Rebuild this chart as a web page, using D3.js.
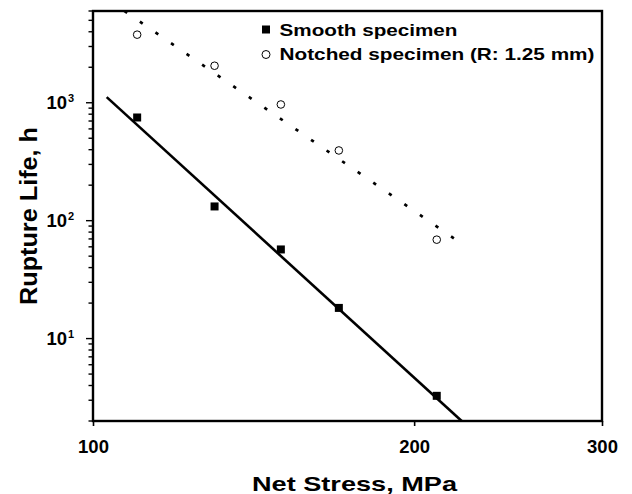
<!DOCTYPE html>
<html><head><meta charset="utf-8">
<script src="https://cdn.jsdelivr.net/npm/d3@7"></script>
<style>body{margin:0;background:#fff} text{font-family:"Liberation Sans",Arial,sans-serif;font-weight:bold;fill:#000}</style>
</head><body><svg id="c" width="632" height="494"></svg>
<script>
// Data
const stress = [110, 130, 150, 170, 210];
const smoothLife = [750, 132, 57, 18.2, 3.27];
const notchedLife = [3780, 2060, 967, 394, 69];
const smoothFitX = [103, 221.6];
const smoothFitY = [1116, 2];
const notchedFitX = [107, 223.2];
const notchedFitY = [6000, 61];
const xTickValues = [100, 200, 300];
const yMajorValues = [10, 100, 1000];
const yExponents = ["1", "2", "3"];
const legendLabels = ["Smooth specimen", "Notched specimen (R: 1.25 mm)"];

const L = 93, R = 602, T = 11, B = 421;
const svg = d3.select("#c");
const x = d3.scaleLog().domain([100, 300]).range([L, R]);
const y = d3.scaleLog().domain([2, 6000]).range([B, T]);

svg.append("clipPath").attr("id", "clip").append("rect")
  .attr("x", L).attr("y", T).attr("width", R - L).attr("height", B - T);

// x axis ticks + labels
const xAxis = d3.axisBottom(x).tickValues(xTickValues).tickSize(5).tickFormat(d3.format("d"));
const gx = svg.append("g").attr("transform", `translate(0,${B})`).call(xAxis);
gx.select(".domain").remove();
gx.selectAll(".tick line").attr("stroke", "#000").attr("stroke-width", 1.6);
gx.selectAll(".tick text").attr("font-size", 18.5).attr("dy", null).attr("y", 31.5);

// y axis: minor ticks
const yAll = y.ticks().filter(v => v >= 2 && v <= 6000);
const gy = svg.append("g");
gy.selectAll("line.minor").data(yAll).join("line")
  .attr("x1", d => yMajorValues.includes(d) ? L - 7 : L - 4.5).attr("x2", L)
  .attr("y1", d => y(d)).attr("y2", d => y(d))
  .attr("stroke", "#000").attr("stroke-width", 1.4);
// y labels 10^n
gy.selectAll("text.yl").data(yMajorValues).join("text")
  .attr("x", 67).attr("y", d => y(d) + 6.5)
  .attr("text-anchor", "end").attr("font-size", 18.5).text("10");
gy.selectAll("text.ye").data(yMajorValues).join("text")
  .attr("x", 68).attr("y", d => y(d) - 1)
  .attr("font-size", 11).text((d, i) => yExponents[i]);

// frame
svg.append("rect").attr("x", L).attr("y", T).attr("width", R - L).attr("height", B - T)
  .attr("fill", "none").attr("stroke", "#000").attr("stroke-width", 2.4);

const line = d3.line().x(d => x(d[0])).y(d => y(d[1]));
const plot = svg.append("g").attr("clip-path", "url(#clip)");
plot.append("path").datum(d3.zip(smoothFitX, smoothFitY)).attr("d", line)
  .attr("fill", "none").attr("stroke", "#000").attr("stroke-width", 2.6);
plot.append("path").datum(d3.zip(notchedFitX, notchedFitY)).attr("d", line)
  .attr("fill", "none").attr("stroke", "#000").attr("stroke-width", 2.7)
  .attr("stroke-dasharray", "3.4 15.5");

// markers
const sq = 8;
svg.selectAll("rect.s").data(d3.zip(stress, smoothLife)).join("rect")
  .attr("x", d => x(d[0]) - sq / 2).attr("y", d => y(d[1]) - sq / 2)
  .attr("width", sq).attr("height", sq).attr("fill", "#000");
svg.selectAll("circle.n").data(d3.zip(stress, notchedLife)).join("circle")
  .attr("cx", d => x(d[0])).attr("cy", d => y(d[1])).attr("r", 3.8)
  .attr("fill", "#fff").attr("stroke", "#000").attr("stroke-width", 1);

// legend
svg.append("rect").attr("x", 266 - 4).attr("y", 29.5 - 4).attr("width", 8).attr("height", 8).attr("fill", "#000");
svg.append("circle").attr("cx", 266).attr("cy", 54.5).attr("r", 4)
  .attr("fill", "#fff").attr("stroke", "#000").attr("stroke-width", 1);
svg.append("text").attr("x", 279.5).attr("y", 35.5).attr("font-size", 16.5)
  .attr("textLength", 178).attr("lengthAdjust", "spacingAndGlyphs").text(legendLabels[0]);
svg.append("text").attr("x", 279.5).attr("y", 60).attr("font-size", 16.5)
  .attr("textLength", 315).attr("lengthAdjust", "spacingAndGlyphs").text(legendLabels[1]);

// axis titles
svg.append("text").attr("x", 252).attr("y", 491).attr("font-size", 21)
  .attr("textLength", 205).attr("lengthAdjust", "spacingAndGlyphs").text("Net Stress, MPa");
svg.append("text").attr("transform", "translate(36.5,216) rotate(-90)")
  .attr("text-anchor", "middle").attr("font-size", 24)
  .attr("textLength", 178).attr("lengthAdjust", "spacingAndGlyphs").text("Rupture Life, h");
</script></body></html>
